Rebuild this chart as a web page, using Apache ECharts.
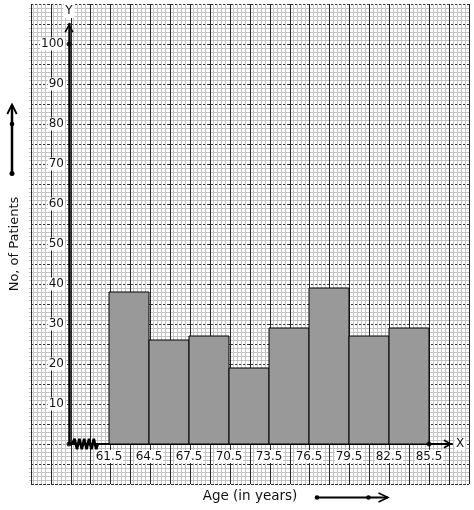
<!DOCTYPE html>
<html>
<head>
<meta charset="utf-8">
<script src="https://cdn.jsdelivr.net/npm/echarts@6/dist/echarts.min.js"></script>
<style>
html,body{margin:0;padding:0;background:#fff;}
#chart{width:474px;height:510px;}
</style>
</head>
<body>
<div id="chart"></div>
<script>
// ---- data ----
const binStarts = [61.5, 64.5, 67.5, 70.5, 73.5, 76.5, 79.5, 82.5];
const binEnds   = [64.5, 67.5, 70.5, 73.5, 76.5, 79.5, 82.5, 85.5];
const patients  = [38, 26, 27, 19, 29, 39, 27, 29];
const xTickLabels = ['61.5', '64.5', '67.5', '70.5', '73.5', '76.5', '79.5', '82.5', '85.5'];
const yTickLabels = [10, 20, 30, 40, 50, 60, 70, 80, 90, 100];
const axisOrigin = 58.5;   // age at the (broken) origin
const classWidth = 3;
// zig-zag "kink" marks on the x axis, in axis units [x, y]
const kinkPoints = [[0.08,0],[0.14,1.3],[0.2,-1.3],[0.26,1.3],[0.32,-1.3],[0.38,1.3],[0.44,-1.3],[0.5,1.3],[0.56,-1.3],[0.62,1.3],[0.68,-1.3],[0.72,0]];

const toU = a => (a - axisOrigin) / classWidth;
const FONT = 'DejaVu Sans';
const chevronUp = 'path://M0,9 L5,0 L10,9 L8.4,9.9 L5,3.4 L1.6,9.9 Z';

const chart = echarts.init(document.getElementById('chart'));

const paperRect = {left: 29, top: 4, width: 440, height: 480};
const option = {
  animation: false,
  backgroundColor: '#ffffff',
  grid: [
    Object.assign({}, paperRect),
    Object.assign({}, paperRect),
    {left: 69, top: 24, width: 383, height: 420}
  ],
  xAxis: [
    { // minor paper lines
      type: 'value', gridIndex: 0, min: -1, max: 10, interval: 0.5,
      axisLine: {show: false}, axisTick: {show: false}, axisLabel: {show: false},
      splitLine: {show: false},
      minorTick: {show: false, splitNumber: 5},
      minorSplitLine: {show: true, lineStyle: {color: '#c4c4c4', width: 1}}
    },
    { // major paper lines + axis title
      type: 'value', gridIndex: 1, min: -1, max: 10, interval: 0.5,
      axisLine: {show: false}, axisTick: {show: false}, axisLabel: {show: false},
      splitLine: {show: true, lineStyle: {color: '#262626', width: 1}},
      name: 'Age (in years)', nameLocation: 'middle', nameGap: 5,
      nameTextStyle: {fontFamily: FONT, fontSize: 13.5, color: '#111'}
    },
    { // real x axis
      type: 'value', gridIndex: 2, min: 0, max: 383 / 40, interval: 1,
      axisLine: {show: true, lineStyle: {color: '#000', width: 2},
        symbol: ['none', chevronUp], symbolSize: [10, 9], symbolOffset: [0, -4]},
      axisTick: {show: false},
      splitLine: {show: false},
      axisLabel: {
        show: true, margin: 6, fontFamily: FONT, fontSize: 12, color: '#111',
        backgroundColor: '#fff', padding: [1, 1, 0, 1],
        formatter: v => {
          const i = Math.round(v);
          if (Math.abs(v - i) > 1e-6 || i < 1 || i > xTickLabels.length) return '';
          return xTickLabels[i - 1];
        }
      },
      name: 'X', nameLocation: 'end', nameGap: 3,
      nameTextStyle: {fontFamily: FONT, fontSize: 12, color: '#111', backgroundColor: '#fff', padding: [0, 1]}
    }
  ],
  yAxis: [
    {
      type: 'value', gridIndex: 0, min: -10, max: 110, interval: 5,
      axisLine: {show: false}, axisTick: {show: false}, axisLabel: {show: false},
      splitLine: {show: false},
      minorTick: {show: false, splitNumber: 5},
      minorSplitLine: {show: true, lineStyle: {color: '#c4c4c4', width: 1}}
    },
    {
      type: 'value', gridIndex: 1, min: -10, max: 110, interval: 5,
      axisLine: {show: false}, axisTick: {show: false}, axisLabel: {show: false},
      splitLine: {show: true, lineStyle: {color: '#333', width: 1, type: [3, 1]}},
      name: 'No, of Patients', nameLocation: 'middle', nameGap: 10, nameRotate: 90,
      nameTextStyle: {fontFamily: FONT, fontSize: 13, color: '#111'}
    },
    {
      type: 'value', gridIndex: 2, min: 0, max: 105, interval: 10,
      axisLine: {show: true, lineStyle: {color: '#000', width: 2.5},
        symbol: ['none', chevronUp], symbolSize: [10, 9], symbolOffset: [0, -4]},
      axisTick: {show: false},
      splitLine: {show: false},
      axisLabel: {
        show: true, margin: 4, fontFamily: FONT, fontSize: 12, color: '#111',
        backgroundColor: '#fff', padding: [1, 1, 0, 1],
        formatter: v => yTickLabels.indexOf(Math.round(v)) >= 0 && Math.abs(v - Math.round(v)) < 1e-6 ? String(Math.round(v)) : ''
      },
      name: 'Y', nameLocation: 'end', nameGap: 6,
      nameTextStyle: {fontFamily: FONT, fontSize: 12, color: '#111', backgroundColor: '#fff', padding: [1, 2], align: 'center'}
    }
  ],
  series: [
    {
      type: 'custom', xAxisIndex: 2, yAxisIndex: 2, z: 3,
      data: binStarts.map((s, i) => [toU(s), toU(binEnds[i]), patients[i]]),
      renderItem: function (params, api) {
        const p0 = api.coord([api.value(0), api.value(2)]);
        const p1 = api.coord([api.value(1), 0]);
        return {
          type: 'rect',
          shape: {x: p0[0], y: p0[1], width: p1[0] - p0[0], height: p1[1] - p0[1]},
          style: {fill: '#999999', stroke: '#000', lineWidth: 1}
        };
      }
    },
    {
      type: 'line', xAxisIndex: 2, yAxisIndex: 2, z: 5, clip: false,
      data: kinkPoints, showSymbol: false, symbol: 'none',
      lineStyle: {color: '#000', width: 2.6}
    },
    {
      type: 'scatter', xAxisIndex: 2, yAxisIndex: 2, z: 6, clip: false,
      data: [[0, 0], [0, yTickLabels[yTickLabels.length - 1]], [toU(binEnds[binEnds.length - 1]), 0]],
      symbolSize: 5, itemStyle: {color: '#000'}
    }
  ],
  graphic: [
    // decorative arrow beside the y title
    {type: 'line', shape: {x1: 12, y1: 174, x2: 12, y2: 105}, style: {stroke: '#000', lineWidth: 2.5}},
    {type: 'polyline', shape: {points: [[7.3, 114], [12, 104.5], [16.7, 114]]}, style: {stroke: '#000', lineWidth: 1.8, fill: null}},
    {type: 'circle', shape: {cx: 12, cy: 124, r: 2.3}, style: {fill: '#000'}},
    {type: 'circle', shape: {cx: 12, cy: 173.5, r: 2.5}, style: {fill: '#000'}},
    // decorative arrow beside the x title
    {type: 'line', shape: {x1: 317, y1: 497.5, x2: 388, y2: 497.5}, style: {stroke: '#000', lineWidth: 2}},
    {type: 'polyline', shape: {points: [[378.5, 493], [388, 497.5], [378.5, 502]]}, style: {stroke: '#000', lineWidth: 1.6, fill: null}},
    {type: 'circle', shape: {cx: 317, cy: 497.5, r: 2.3}, style: {fill: '#000'}},
    {type: 'circle', shape: {cx: 368.5, cy: 497.5, r: 2.3}, style: {fill: '#000'}}
  ]
};
chart.setOption(option);
</script>
</body>
</html>
